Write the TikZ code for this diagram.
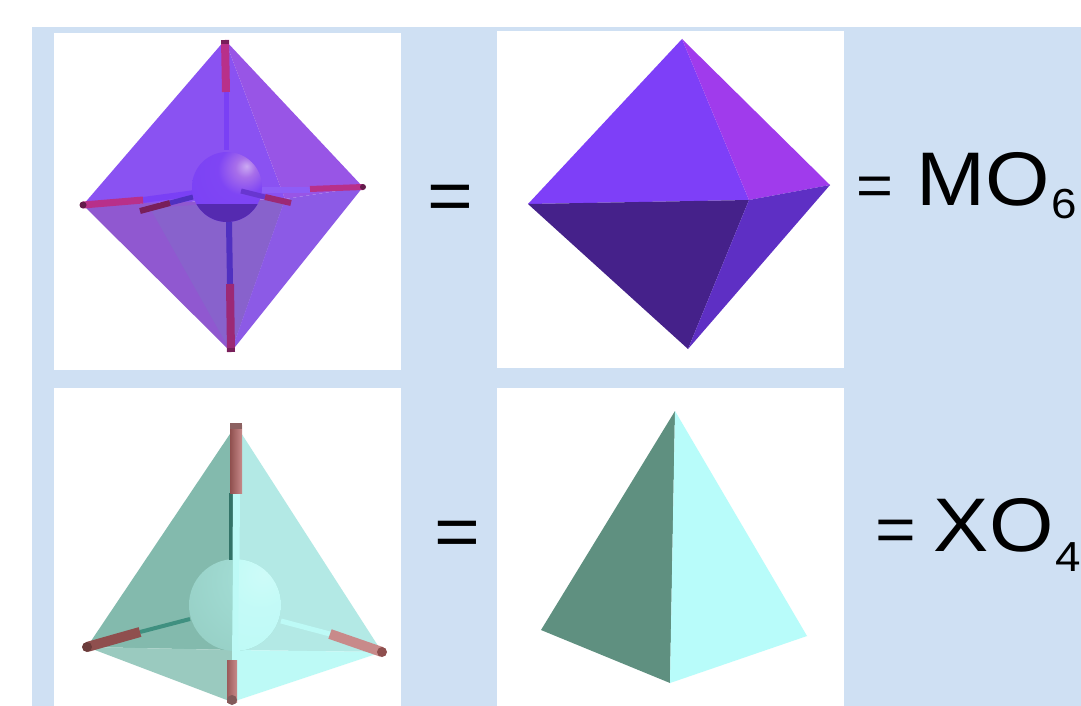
\documentclass[tikz,border=0pt]{standalone}
\usepackage{fontspec}
\setmainfont[FakeStretch=1.09]{Liberation Sans}
\newcommand{\fsz}[1]{\fontsize{#1}{#1}\selectfont}
\newcommand{\formula}[5]{{\fsz{#1}=}\hspace{#2pt}{\fsz{76}#3}\hspace{1.5pt}\raisebox{#4pt}{\fsz{42}#5}}
\definecolor{bgblue}{HTML}{CFE0F3}
\definecolor{ocUL}{HTML}{8A52F2}
\definecolor{ocUR}{HTML}{9855E6}
\definecolor{ocLLout}{HTML}{9058D0}
\definecolor{ocLLin}{HTML}{8862CC}
\definecolor{ocLR}{HTML}{8C5AE6}
\definecolor{rodred}{HTML}{B8308A}
\definecolor{rodpurple}{HTML}{7A40F5}
\definecolor{rodblue}{HTML}{5030C0}
\definecolor{solUL}{HTML}{7E3FF8}
\definecolor{solUR}{HTML}{A03BEC}
\definecolor{solLL}{HTML}{45218A}
\definecolor{solLR}{HTML}{5E2FC4}
\definecolor{teUL}{HTML}{83BAAD}
\definecolor{teLL}{HTML}{9ACABF}
\definecolor{teUR}{HTML}{B3E9E5}
\definecolor{teLR}{HTML}{BDFAF6}
\definecolor{rodpink}{HTML}{C88A8A}
\definecolor{roddark}{HTML}{8F4F4E}
\definecolor{rodteal}{HTML}{3F9080}
\definecolor{soltL}{HTML}{5F9080}
\definecolor{soltR}{HTML}{B8FCFA}
\pgfdeclareradialshading{sphpurple}{\pgfpoint{14bp}{15bp}}{
  color(0bp)=(ocUR!50!white); color(7bp)=(ocUR!85!white); color(18bp)=(rodpurple!70!ocUL);
  color(50bp)=(rodpurple); color(100bp)=(rodpurple)}
\pgfdeclareradialshading{sphcyan}{\pgfpoint{16bp}{17bp}}{
  color(0bp)=(teLR!75!white); color(15bp)=(teLR!90!white); color(45bp)=(teLR); color(75bp)=(teUR); color(100bp)=(teUR)}
\pgfdeclareradialshading{sphteal}{\pgfpoint{16bp}{17bp}}{
  color(0bp)=(teLR!60!teUL); color(40bp)=(teLR!35!teUL); color(75bp)=(teUL!95!black); color(100bp)=(teUL!95!black)}
\tikzset{
  panel/.style={fill=white,draw=none},
  eqsign/.style={inner sep=0pt,anchor=base,text=black},
  formulatext/.style={inner sep=0pt,anchor=base west,text=black},
  rodline/.style={line cap=butt,line width=#1},
  rodline/.default=7pt
}
\begin{document}
\begin{tikzpicture}[x=1pt,y=-1pt]
\useasboundingbox (0,0) rectangle (1081,706);
\fill[bgblue] (32,27) rectangle (1081,706);
\fill[panel] (54,33) rectangle (401,370);
\fill[panel] (497,31) rectangle (844,368);
\fill[panel] (54,388) rectangle (401,706);
\fill[panel] (497,388) rectangle (844,706);

% ---- translucent octahedron
\coordinate (aT) at (225,40);
\coordinate (aL) at (83,205);
\coordinate (aR) at (363,187);
\coordinate (aB) at (231,352);
\coordinate (aI) at (285,199);
\coordinate (aK) at (150,208);
\fill[ocUL] (aT) -- (aL) -- (aI) -- cycle;
\fill[ocUR] (aT) -- (aI) -- (aR) -- cycle;
\fill[ocLLout] (aL) -- (aI) -- (aB) -- cycle;
\fill[ocLLin] (aK) -- (aI) -- (aB) -- cycle;
\fill[ocLR] (aI) -- (aR) -- (aB) -- cycle;
% vertical rods
\draw[rodline=5pt,rodpurple] (226,92) -- (226,150);
\draw[rodline=8pt,rodred] (aT) -- (226,92);
\draw[rodline=6pt,rodblue] (229,222) -- (230,284);
\draw[rodline=8pt,rodred!85!black] (230,284) -- (aB);
% horizontal rods
\draw[rodline=6pt,rodpurple] (143,200) -- (195,193);
\draw[rodline=7pt,rodred] (aL) -- (143,200);
\draw[rodline=6pt,rodpurple!85!white] (310,190) -- (262,190);
\draw[rodline=6pt,rodred] (aR) -- (310,189);
\fill[black!45!rodred] (aL) circle (3.5);
\fill[black!45!rodred] (aR) circle (3);
\fill[black!35!rodred] (221,40) rectangle (229,44);
\fill[black!35!rodred] (227,348) rectangle (235,352);
% metal sphere
\begin{scope}
\clip (227,187) circle (35);
\path[shading=sphpurple] (227,187) circle (35);
\fill[solLR!90!black] (185,204) rectangle (270,225);
\end{scope}
% front rods
\draw[rodline=5pt,rodblue] (193,197) -- (170,203);
\draw[rodline=6pt,black!35!rodred] (170,203) -- (140,211);
\draw[rodline=5pt,rodpurple!85!black] (241,191) -- (265,197);
\draw[rodline=6pt,black!15!rodred] (265,197) -- (291,203);

% ---- solid octahedron
\coordinate (bT) at (682,39);
\coordinate (bL) at (528,204);
\coordinate (bR) at (830,185);
\coordinate (bB) at (688,349);
\coordinate (bI) at (749,200);
\fill[solUL] (bT) -- (bL) -- (bI) -- cycle;
\fill[solUR] (bT) -- (bI) -- (bR) -- cycle;
\fill[solLL] (bL) -- (bI) -- (bB) -- cycle;
\fill[solLR] (bI) -- (bR) -- (bB) -- cycle;

% ---- translucent tetrahedron
\coordinate (cT) at (236,425);
\coordinate (cL) at (87,647);
\coordinate (cR) at (382,652);
\coordinate (cB) at (232,702);
\coordinate (cM) at (233,650);
\fill[teUL] (cT) -- (cL) -- (cM) -- cycle;
\fill[teLL] (cL) -- (cM) -- (cB) -- cycle;
\fill[teUR] (cT) -- (cM) -- (cR) -- cycle;
\fill[teLR] (cM) -- (cR) -- (cB) -- cycle;
% back rods
\draw[rodline=4pt,rodteal] (140,632) -- (190,619);
\draw[rodline=10pt,roddark] (cL) -- (140,632);
\draw[rodline=5pt,teLR] (330,634) -- (281,621);
\draw[rodline=10pt,rodpink] (cR) -- (330,634);
\fill[black!25!roddark] (cL) circle (5);
\fill[roddark] (cR) circle (5);
% metal sphere, cut by the front edge
\begin{scope}
\clip (235,605) circle (46);
\path[shading=sphteal] (235,605) circle (46);
\end{scope}
\begin{scope}
\clip (233,555) rectangle (285,655);
\clip (235,605) circle (46);
\path[shading=sphcyan] (235,605) circle (46);
\end{scope}
% front edge rod
\draw[rodline=4pt,rodteal!80!black] (231,493) -- (231,560);
\draw[rodline=7pt,teLR] (236.5,493) -- (236,560);
\draw[rodline=6pt,teLR] (236,560) -- (235,660);
\shade[left color=roddark,right color=rodpink] (230,425) rectangle (242,493);
\shade[left color=roddark!80!rodpink,right color=rodpink] (227,660) rectangle (237,702);
\fill[black!30!rodpink] (230,423) rectangle (242,429);
\fill[black!35!rodpink] (232,700) circle (5);

% ---- solid tetrahedron
\coordinate (dT) at (675,411);
\coordinate (dL) at (541,630);
\coordinate (dR) at (807,636);
\coordinate (dB) at (670,683);
\fill[soltL] (dT) -- (dL) -- (dB) -- cycle;
\fill[soltR] (dT) -- (dR) -- (dB) -- cycle;

% ---- text
\node[eqsign,font=\fsz{72}] (eqA) at (450,220) {=};
\node[eqsign,font=\fsz{72}] (eqB) at (457,556) {=};
\node[formulatext] (mo) at (856,205) {\formula{58}{23}{MO}{-13}{6}};
\node[formulatext] (xo) at (875,551) {\formula{64}{18}{XO}{-20}{4}};
\end{tikzpicture}
\end{document}
